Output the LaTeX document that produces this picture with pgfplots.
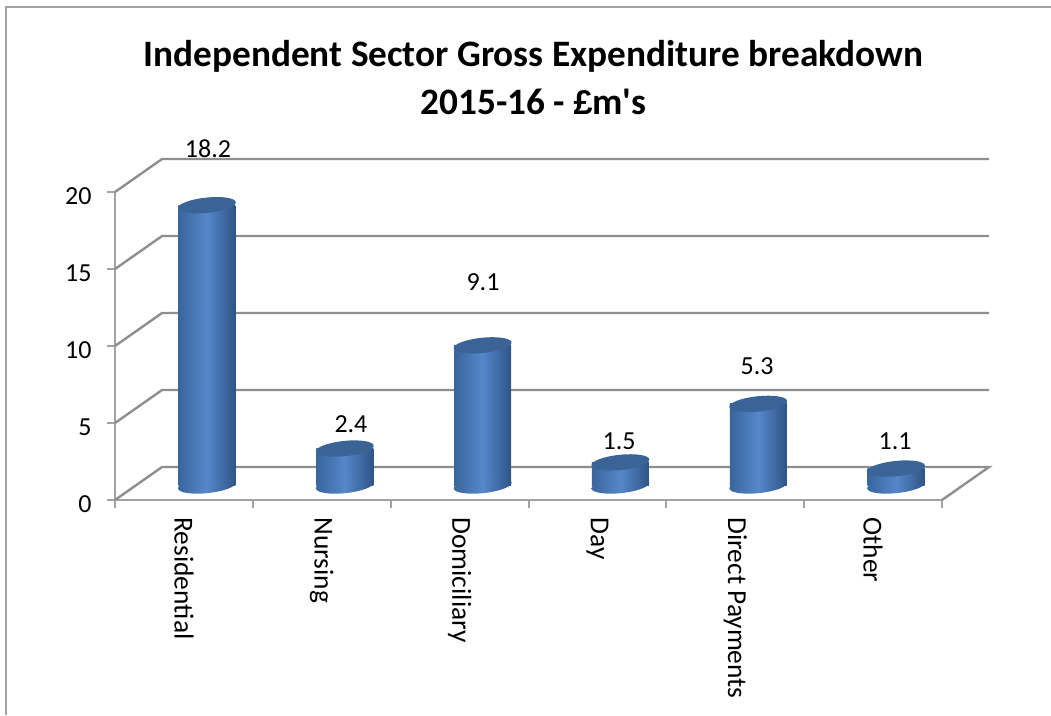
\documentclass[border=0pt]{standalone}
\usepackage{pgfplots}
\pgfplotsset{compat=1.18}
\usepackage{fontspec}
\setmainfont{Carlito}
\newfontfamily\plainf[Numbers=Lining]{Carlito}
\newfontfamily\poundf[Scale=0.92]{Liberation Sans}
\definecolor{gridc}{HTML}{8E8E8E}
\definecolor{axisc}{HTML}{A2A2A2}
\definecolor{cl}{HTML}{3A659C}
\definecolor{cm}{HTML}{5587CA}
\definecolor{cr}{HTML}{2F5486}
\definecolor{ctop}{HTML}{3A6496}
\pgfdeclarehorizontalshading{cyl}{100bp}{color(0bp)=(cl);color(25bp)=(cl);color(50bp)=(cm);color(75bp)=(cr);color(100bp)=(cr)}
\pgfdeclareplotmark{botell}{\pgfpathellipse{\pgfpointorigin}{\pgfpoint{28.9pt}{3pt}}{\pgfpoint{-0.8pt}{7.6pt}}\pgfshadepath{cyl}{0}\pgfusepath{discard}}
\pgfdeclareplotmark{topell}{\pgfsetfillcolor{ctop}\pgfpathellipse{\pgfpointorigin}{\pgfpoint{28.9pt}{3pt}}{\pgfpoint{-0.8pt}{7.6pt}}\pgfusepathqfill}
\pgfplotsset{cylbar/.style={ybar,bar shift=0pt,bar width=57pt,draw=none,left color=cl,right color=cr,middle color=cm,yshift=14.5pt}}
\begin{document}
\begin{tikzpicture}[x=1pt,y=1pt]
\path[use as bounding box] (0,0) rectangle (1051,715);
\draw[axisc,line width=2.4pt] (6,0) -- (6,708) -- (1051,708);
\begin{axis}[
  at={(115pt,215pt)},anchor=south west,
  scale only axis,width=827pt,height=308pt,
  xmin=-0.5,xmax=5.5,ymin=0,ymax=20,
  clip=false,
  axis x line=bottom,axis y line=left,
  axis line style={axisc,line width=2.4pt,-},
  xtick={-0.5,0.5,1.5,2.5,3.5,4.5,5.5},
  xticklabels={},
  extra x ticks={0,1,2,3,4,5},
  extra x tick labels={Residential,Nursing,Domiciliary,Day,Direct Payments,Other},
  extra x tick style={major tick length=0pt,tick style={draw=none},
    tick label style={font=\fontsize{27.4}{30}\selectfont,black,rotate=-90,anchor=west,xshift=14pt,yshift=0pt}},
  ytick={0,5,10,15,20},
  tick align=outside,
  major tick length=8pt,
  tick style={axisc,line width=2pt},
  /pgf/number format/assume math mode=true,
  tick label style={font=\fontsize{26}{30}\selectfont,black},
  y tick label style={xshift=-12pt,yshift=-4.5pt},
  title={Independent Sector Gross Expenditure breakdown\\2015-16 - {\poundf\bfseries £}m's},
  title style={at={(0.506,1.352)},anchor=center,align=center,font=\fontsize{37.3}{48}\selectfont\plainf\bfseries},
]
% walls
\addplot[gridc,line width=2.4pt,no marks] coordinates {(-0.5,0)(-0.159,2.14)(5.841,2.14)(5.5,0)};
\addplot[gridc,line width=2.4pt,no marks] coordinates {(-0.5,5)(-0.159,7.14)(5.841,7.14)};
\addplot[gridc,line width=2.4pt,no marks] coordinates {(-0.5,10)(-0.159,12.14)(5.841,12.14)};
\addplot[gridc,line width=2.4pt,no marks] coordinates {(-0.5,15)(-0.159,17.14)(5.841,17.14)};
\addplot[gridc,line width=2.4pt,no marks] coordinates {(-0.5,20)(-0.159,22.14)(5.841,22.14)};
% cylinders
\addplot[only marks,mark=botell,yshift=14.5pt] coordinates {(0.167,0)(1.167,0)(2.167,0)(3.167,0)(4.167,0)(5.167,0)};
\addplot[cylbar] coordinates {(0.167,18.2)};
\addplot[cylbar] coordinates {(1.167,2.4)};
\addplot[cylbar] coordinates {(2.167,9.1)};
\addplot[cylbar] coordinates {(3.167,1.5)};
\addplot[cylbar] coordinates {(4.167,5.3)};
\addplot[cylbar] coordinates {(5.167,1.1)};
\addplot[only marks,mark=topell,yshift=14.5pt]
  coordinates {(0.167,18.2)(1.167,2.4)(2.167,9.1)(3.167,1.5)(4.167,5.3)(5.167,1.1)};
% data labels
\addplot[only marks,mark=none,nodes near coords,point meta=explicit symbolic,
  nodes near coords align={anchor=center},
  every node near coord/.style={font=\fontsize{26}{30}\selectfont,black}]
  table[meta=label,row sep=\\]{
  x y label\\
  0.175 22.8 18.2\\
  1.212 4.95 2.4\\
  2.17 14.16 9.1\\
  3.157 3.8 1.5\\
  4.158 8.7 5.3\\
  5.16 3.8 1.1\\
};
\end{axis}
\end{tikzpicture}
\end{document}
